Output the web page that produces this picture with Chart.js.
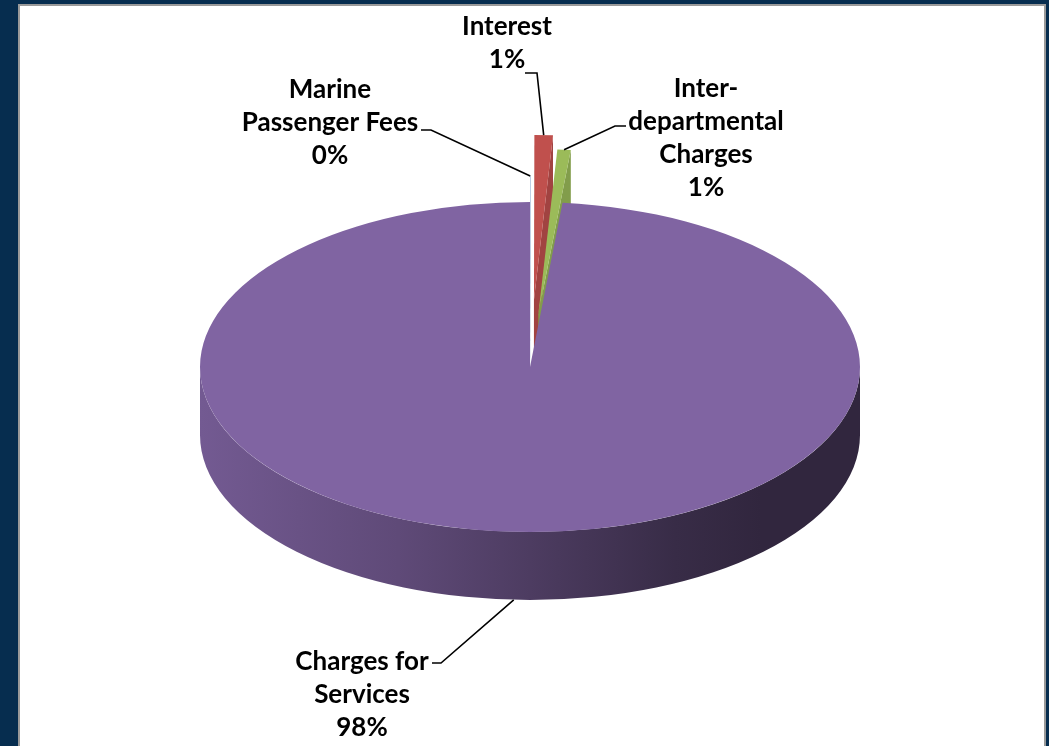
<!DOCTYPE html>
<html>
<head>
<meta charset="utf-8">
<script src="https://cdn.jsdelivr.net/npm/chart.js@4.4.1/dist/chart.umd.min.js"></script>
<style>
  html, body { margin: 0; padding: 0; background: #062d4f; overflow: hidden; }
  #frame { position: absolute; left: 18px; top: 4px; width: 1024px; height: 760px; background: #fff; border: 2px solid #9a9a9a; }
  #chart { position: absolute; left: 0; top: 0; }
</style>
</head>
<body>
<div id="frame"></div>
<canvas id="chart" width="1049" height="746"></canvas>
<script>
const categories = [['Marine', 'Passenger Fees'], ['Interest'], ['Inter-', 'departmental', 'Charges'], ['Charges for', 'Services']];
const shares = [0.02, 0.9, 0.65, 98.43];
const sliceColors = ['#4f81bd', '#c0504d', '#9bbb59', '#8064a2'];

const TILT = 0.5;   // vertical squash of the pie disc
const DEPTH = 68;   // thickness of the disc in px

function shade(hex, k) {
  const n = parseInt(hex.slice(1), 16);
  const r = Math.round(((n >> 16) & 255) * k);
  const g = Math.round(((n >> 8) & 255) * k);
  const b = Math.round((n & 255) * k);
  return `rgb(${r},${g},${b})`;
}

function sliceGeom(arc, explode) {
  const mid = (arc.startAngle + arc.endAngle) / 2;
  return {
    x: arc.x + Math.cos(mid) * explode,
    y: arc.y + Math.sin(mid) * explode * TILT,
    r: arc.outerRadius,
    a1: arc.startAngle,
    a2: arc.endAngle,
    mid: mid
  };
}

// draws the pie as a tilted disc instead of the flat default arcs
const pie3d = {
  id: 'pie3d',
  beforeDatasetsDraw(chart, args, opts) {
    const ctx = chart.ctx;
    const meta = chart.getDatasetMeta(0);
    const colors = chart.data.datasets[0].backgroundColor;
    const geo = meta.data.map((arc, i) => sliceGeom(arc, opts.explode[i] || 0));
    const order = geo.map((_, i) => i).sort((i, j) => geo[i].y - geo[j].y);

    order.forEach(i => {
      const s = geo[i];
      const base = colors[i];
      if (s.a2 - s.a1 <= 0) return;
      ctx.save();

      // cut faces that turn towards the viewer
      const faces = [];
      if (Math.cos(s.a1) < -1e-6) faces.push(s.a1);
      if (Math.cos(s.a2) > 1e-6) faces.push(s.a2);
      faces.forEach(a => {
        const ex = s.x + Math.cos(a) * s.r;
        const ey = s.y + Math.sin(a) * s.r * TILT;
        ctx.beginPath();
        ctx.moveTo(s.x, s.y);
        ctx.lineTo(ex, ey);
        ctx.lineTo(ex, ey + DEPTH);
        ctx.lineTo(s.x, s.y + DEPTH);
        ctx.closePath();
        ctx.fillStyle = shade(base, 0.84);
        ctx.fill();
      });

      // front part of the rim
      const w1 = Math.max(s.a1, 0);
      const w2 = Math.min(s.a2, Math.PI);
      if (w2 > w1) {
        const grad = ctx.createLinearGradient(s.x - s.r, 0, s.x + s.r, 0);
        grad.addColorStop(0, shade(base, 0.9));
        grad.addColorStop(0.3, shade(base, 0.74));
        grad.addColorStop(0.5, shade(base, 0.6));
        grad.addColorStop(0.72, shade(base, 0.44));
        grad.addColorStop(0.85, shade(base, 0.38));
        grad.addColorStop(1, shade(base, 0.38));
        ctx.beginPath();
        ctx.ellipse(s.x, s.y, s.r, s.r * TILT, 0, w1, w2);
        ctx.ellipse(s.x, s.y + DEPTH, s.r, s.r * TILT, 0, w2, w1, true);
        ctx.closePath();
        ctx.fillStyle = grad;
        ctx.fill();
      }

      // top face
      ctx.beginPath();
      ctx.moveTo(s.x, s.y);
      ctx.ellipse(s.x, s.y, s.r, s.r * TILT, 0, s.a1, s.a2);
      ctx.closePath();
      ctx.fillStyle = base;
      ctx.fill();
      ctx.restore();
    });

    chart.$pieGeo = geo;
    return false;
  },
  afterDraw(chart, args, opts) {
    const ctx = chart.ctx;
    const geo = chart.$pieGeo;
    const ds = chart.data.datasets[0];
    const total = ds.data.reduce((a, b) => a + b, 0);
    ctx.save();
    ctx.font = opts.font;
    ctx.fillStyle = '#000';
    ctx.textAlign = 'center';
    ctx.textBaseline = 'middle';
    chart.data.labels.forEach((lab, i) => {
      const p = opts.place[i];
      const lines = lab.concat([Math.round(ds.data[i] / total * 100) + '%']);
      lines.forEach((t, k) => ctx.fillText(t, p.x, p.y + k * opts.lineHeight));

      // leader line from the label to the slice edge
      const s = geo[i];
      const ex = s.x + Math.cos(s.mid) * s.r;
      let ey = s.y + Math.sin(s.mid) * s.r * TILT;
      if (Math.sin(s.mid) > 0) ey += DEPTH;
      ctx.beginPath();
      ctx.moveTo(p.lead[0], p.lead[1]);
      ctx.lineTo(p.lead[2], p.lead[3]);
      ctx.lineTo(ex, ey);
      ctx.lineWidth = 1.6;
      ctx.strokeStyle = '#000';
      ctx.stroke();
    });
    ctx.restore();
  }
};

new Chart(document.getElementById('chart'), {
  type: 'pie',
  data: {
    labels: categories,
    datasets: [{
      data: shares,
      backgroundColor: sliceColors,
      borderWidth: 0,
      radius: 330
    }]
  },
  options: {
    responsive: false,
    animation: false,
    events: [],
    layout: { padding: { left: 11, right: 0, top: 0, bottom: 12 } },
    plugins: {
      legend: { display: false },
      tooltip: { enabled: false },
      pie3d: {
        explode: [52, 134, 106, 0],
        font: 'bold 26px Lato',
        lineHeight: 33,
        place: [
          { x: 330, y: 90, lead: [421, 130, 431, 130] },
          { x: 507, y: 27, lead: [525, 73, 537, 73] },
          { x: 706, y: 89, lead: [626, 126, 615, 126] },
          { x: 362, y: 662, lead: [432, 663, 441, 663] }
        ]
      }
    }
  },
  plugins: [pie3d]
});
</script>
</body>
</html>
